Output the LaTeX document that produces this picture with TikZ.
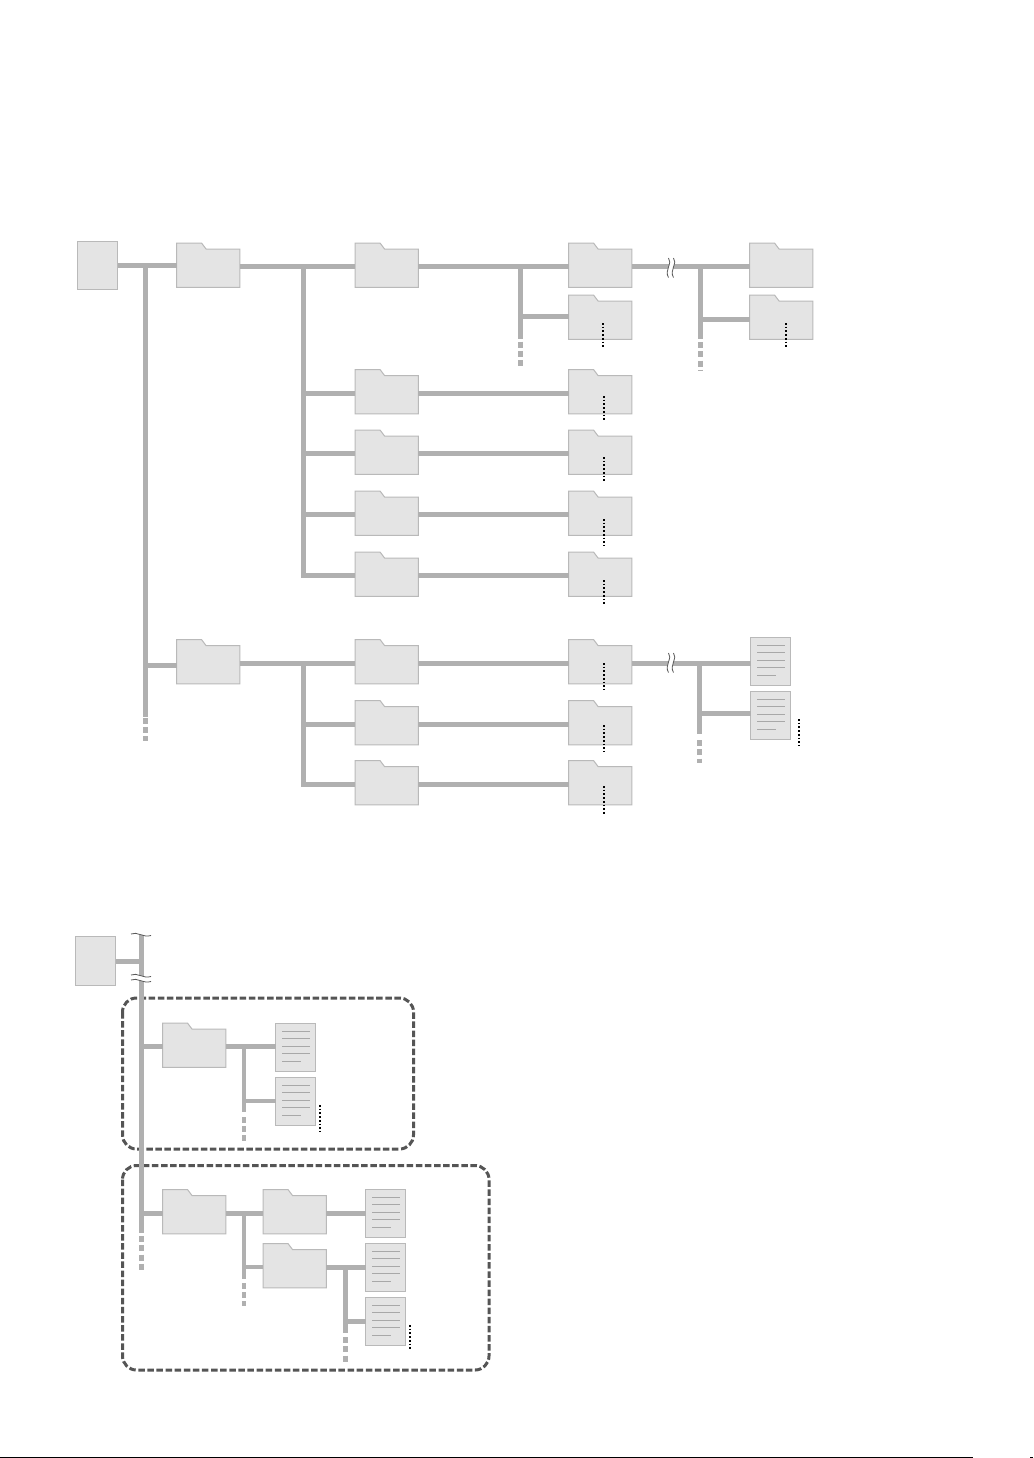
\documentclass[tikz,border=0pt]{standalone}
\definecolor{conngray}{HTML}{B0B0B0}
\definecolor{boxfill}{HTML}{E4E4E4}
\definecolor{boxline}{HTML}{B9B9B9}
\definecolor{docline}{HTML}{A8A8A8}
\definecolor{groupline}{HTML}{555555}
\tikzset{
  anchorbox/.style={inner sep=0pt,outer sep=0pt,minimum width=63.4pt,minimum height=35pt},
  docbox/.style={inner sep=0pt,outer sep=0pt,minimum width=40.4pt,minimum height=48.4pt,fill=boxfill,draw=boxline,line width=1pt},
  rootbox/.style={inner sep=0pt,outer sep=0pt,minimum width=40.4pt,minimum height=48.4pt,fill=boxfill,draw=boxline,line width=1pt},
  folderline/.style={fill=boxfill,draw=boxline,line width=1pt,line join=miter},
  conn/.style={draw=conngray,line width=5pt},
  thinconn/.style={draw=conngray,line width=4pt},
  tail/.style={draw=conngray,line width=5pt,dash pattern=on 6pt off 3.3pt},
  thintail/.style={draw=conngray,line width=4.5pt,dash pattern=on 5.5pt off 3.5pt},
  more/.style={draw=black,line width=2pt,dash pattern=on 1.7pt off 2pt},
  wave/.style={draw=black!65,line width=.8pt},
  group/.style={draw=groupline,line width=3pt,rounded corners=14pt,dash pattern=on 6.5pt off 2.6pt},
  txtline/.style={draw=docline,line width=.8pt}
}
\newcommand{\fldr}[3]{%
  \draw[folderline] (#2,#3) -- ++(25,0) -- ++(4.5,6) -- (#2+63.4,#3+6) -- (#2+63.4,#3+44.3) -- (#2,#3+44.3) -- cycle;
  \node[anchorbox] (#1) at (#2+31.7,#3+23.5) {};
}
\newcommand{\docu}[3]{%
  \node[docbox] (#1) at (#2+20.2,#3+24.2) {};
  \foreach \yy in {8,15,23,30}{\draw[txtline] (#2+6.7,#3+\yy) -- (#2+34.7,#3+\yy);}
  \draw[txtline] (#2+6.7,#3+38) -- (#2+25.3,#3+38);
}
\newcommand{\breakh}[2]{%
  \fill[white] (#1-2.5,#2-9.5) .. controls (#1+2,#2-5) and (#1-7,#2+3) .. (#1-2.5,#2+10)
    -- (#1+2.5,#2+10) .. controls (#1-2,#2+3) and (#1+7,#2-5) .. (#1+2.5,#2-9.5) -- cycle;
  \draw[wave] (#1-2.5,#2-9.5) .. controls (#1+2,#2-5) and (#1-7,#2+3) .. (#1-2.5,#2+10);
  \draw[wave] (#1+2.5,#2-9.5) .. controls (#1+7,#2-5) and (#1-2,#2+3) .. (#1+2.5,#2+10);
}
\begin{document}
\begin{tikzpicture}[x=1pt,y=-1pt]
\useasboundingbox (0,0) rectangle (1033,1458);
\fill[white] (0,0) rectangle (1033,1458);

% ---------- upper tree: nodes ----------
\node[rootbox] (rootA) at (97.7,265.2) {};
\fldr{a1}{176.5}{243}
\fldr{a2}{355}{243}
\fldr{a3}{568.5}{243}
\fldr{a3b}{568.5}{295}
\fldr{a4}{749.5}{243}
\fldr{a4b}{749.5}{295}
\fldr{b1}{355}{369.5}
\fldr{b2}{568.5}{369.5}
\fldr{c1}{355}{430}
\fldr{c2}{568.5}{430}
\fldr{d1}{355}{491}
\fldr{d2}{568.5}{491}
\fldr{e1}{355}{552}
\fldr{e2}{568.5}{552}
\fldr{f1}{176.5}{639.5}
\fldr{f2}{355}{639.5}
\fldr{f3}{568.5}{639.5}
\docu{fd1}{750.5}{637.5}
\docu{fd2}{750.5}{691.5}
\fldr{g1}{355}{700.5}
\fldr{g2}{568.5}{700.5}
\fldr{h1}{355}{760.5}
\fldr{h2}{568.5}{760.5}

% junction columns and branch rows
\coordinate (jRoot) at (145.5,0);
\coordinate (jA) at (303,0);
\coordinate (jB) at (520.5,0);
\coordinate (jC) at (700.5,0);
\coordinate (jD) at (699.5,0);
\coordinate (rF) at (0,665);
\coordinate (rB) at (0,316);
\coordinate (rC) at (0,319);
\coordinate (rD) at (0,713.3);

% ---------- upper tree: connectors ----------
\draw[conn] (rootA.east) -- (rootA.east -| a1.west);
\draw[conn] (jRoot |- rootA.east) -- (jRoot |- rF) -- (rF -| f1.west);
\draw[conn] (jRoot |- rF) -- ++(0,52);
\draw[tail] (145.5,717.5) coordinate (tA) -- (145.5,741) coordinate (tB);
\draw[conn] (a1.east) -- (a2.west);
\draw[conn] (jA |- a1.east) -- (jA |- e1.west) -- (e1.west);
\draw[conn] (jA |- b1.west) -- (b1.west);
\draw[conn] (jA |- c1.west) -- (c1.west);
\draw[conn] (jA |- d1.west) -- (d1.west);
\draw[conn] (a2.east) -- (a3.west);
\draw[conn] (jB |- a3.west) -- (jB |- rB) -- ++(0,23);
\draw[conn] (jB |- rB) -- (rB -| a3b.west);
\draw[tail] (520.5,341.5) coordinate (tC) -- (520.5,366.5) coordinate (tD);
\draw[conn] (a3.east) -- (a4.west);
\draw[conn] (jC |- a4.west) -- (jC |- rC) -- ++(0,20);
\draw[conn] (jC |- rC) -- (rC -| a4b.west);
\draw[tail] (700.5,342) coordinate (tE) -- (700.5,370) coordinate (tF);
\draw[conn] (b1.east) -- (b2.west);
\draw[conn] (c1.east) -- (c2.west);
\draw[conn] (d1.east) -- (d2.west);
\draw[conn] (e1.east) -- (e2.west);
\draw[conn] (f1.east) -- (f2.west);
\draw[conn] (jA |- f2.west) -- (jA |- h1.west) -- (h1.west);
\draw[conn] (jA |- g1.west) -- (g1.west);
\draw[conn] (f2.east) -- (f3.west);
\draw[conn] (f3.east) -- (f3.east -| fd1.west);
\draw[conn] (jD |- f3.east) -- (jD |- rD) -- ++(0,21);
\draw[conn] (jD |- rD) -- (rD -| fd2.west);
\draw[tail] (699.5,740) coordinate (tG) -- (699.5,763) coordinate (tH);
\draw[conn] (g1.east) -- (g2.west);
\draw[conn] (h1.east) -- (h2.west);
\breakh{671}{267.5}
\breakh{671}{662.5}

% dotted continuations
\draw[more] (603,323) -- (603,348);
\draw[more] (786,323) -- (786,348);
\draw[more] (604,396) -- (604,421);
\draw[more] (604,457) -- (604,482);
\draw[more] (604,519) -- (604,545);
\draw[more] (604,580) -- (604,605);
\draw[more] (604,663) -- (604,689);
\draw[more] (604,725) -- (604,751);
\draw[more] (604,786) -- (604,814);
\draw[more] (799,719) -- (799,745);

% ---------- lower tree: groups ----------
\draw[group] (122.5,998) rectangle (413.5,1149);
\draw[group] (122.5,1165.5) rectangle (489,1370);

% ---------- lower tree: nodes ----------
\node[rootbox] (rootB) at (95.5,961) {};
\fldr{k1}{162.5}{1023}
\docu{kd1}{275.5}{1023.3}
\docu{kd2}{275.5}{1077.3}
\fldr{m1}{162.5}{1189.5}
\fldr{m2}{263}{1189.5}
\fldr{m3}{263}{1243.5}
\docu{md1}{365.5}{1189.5}
\docu{md2}{365.5}{1243.5}
\docu{md3}{365.5}{1297.5}

\coordinate (jE) at (141.5,0);
\coordinate (jF) at (244,0);
\coordinate (jG) at (345,0);
\coordinate (rK) at (0,1100.7);

% ---------- lower tree: connectors ----------
\draw[conn] (rootB.east) -- (jE |- rootB.east);
\draw[conn] (141.5,935) coordinate (tI) -- (141.5,1233) coordinate (tJ);
\draw[tail] (tJ) ++(0,3) coordinate (tK) -- (141.5,1270) coordinate (tL);
\draw[conn] (jE |- k1.west) -- (k1.west);
\draw[conn] (jE |- m1.west) -- (m1.west);
\draw[conn] (k1.east) -- (kd1.west |- k1.east);
\draw[thinconn] (jF |- k1.east) -- (jF |- rK) -- ++(0,11.5);
\draw[thinconn] (jF |- rK) -- (rK -| kd2.west);
\draw[thintail] (244,1117) coordinate (tM) -- (244,1141) coordinate (tN);
\draw[conn] (m1.east) -- (m2.west);
\draw[thinconn] (jF |- m1.east) -- (jF |- m3.west) -- (m3.west);
\draw[thinconn] (jF |- m3.west) -- ++(0,12);
\draw[thintail] (244,1283) coordinate (tO) -- (244,1306) coordinate (tP);
\draw[conn] (m2.east) -- (m2.east -| md1.west);
\draw[conn] (m3.east) -- (m3.east -| md2.west);
\draw[conn] (jG |- m3.east) -- (jG |- md3.west) -- ++(0,11);
\draw[conn] (jG |- md3.west) -- (md3.west);
\draw[tail] (345,1337) coordinate (tQ) -- (345,1362) coordinate (tR);

% top break and double break on the lower trunk
\draw[wave] (131,934) .. controls (137,931) and (143,938) .. (151,935.5);
\fill[white] (131,975) .. controls (137,972) and (143,979) .. (151,976.5)
  -- (151,981.5) .. controls (143,984) and (137,977) .. (131,980) -- cycle;
\draw[wave] (131,975) .. controls (137,972) and (143,979) .. (151,976.5);
\draw[wave] (131,980) .. controls (137,977) and (143,984) .. (151,981.5);

\draw[more] (320,1105) -- (320,1131);
\draw[more] (410,1325) -- (410,1350);

% page rule
\draw[black,line width=1pt] (0,1457.3) -- (973,1457.3);
\draw[black,line width=1pt] (1030,1457.3) -- (1033,1457.3);
\end{tikzpicture}
\end{document}
